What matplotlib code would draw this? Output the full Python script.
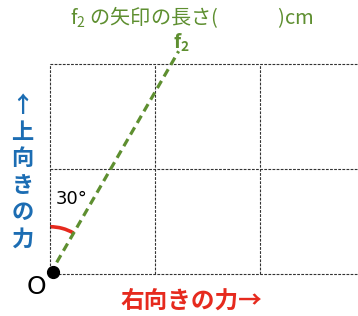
import matplotlib

matplotlib.use("Agg")
import matplotlib.pyplot as plt
import numpy as np
from matplotlib.patches import Arc

plt.rcParams["font.family"] = ["Noto Sans CJK JP", "DejaVu Sans"]

# grid in units of one cell; the figure shows 3 columns (last one cut) x 2 rows
GRID_X = [0, 1, 2]
GRID_Y = [0, 1, 2]
ANGLE_DEG = 30          # angle of f2 from the vertical
F2_LEN = 2.45           # drawn length of the f2 arrow (cells)
ARC_R = 0.45

TITLE = "$\\mathregular{f_2}$ の矢印の長さ(　　　)cm"
YLABEL = "↑上向きの力"
XLABEL = "右向きの力→"

GREEN = "#5e8f30"
BLUE = "#1c6db3"
RED = "#e62a1e"

PX = 105.0  # pixels per cell
fig = plt.figure(figsize=(3.58, 3.16), dpi=100, facecolor="white")
ax = fig.add_axes([0, 0, 1, 1])
ax.set_xlim(-50 / PX, 308 / PX)
ax.set_ylim(-42 / PX, 274 / PX)
ax.axis("off")

# dashed grid
for x in GRID_X:
    ax.plot([x, x], [GRID_Y[0], GRID_Y[-1]], color="#333333", lw=0.8,
            dashes=(2.5, 1.2))
for y in GRID_Y:
    ax.plot([GRID_X[0], 3.2], [y, y], color="#333333", lw=0.8,
            dashes=(2.5, 1.2))

# f2 line
a = np.deg2rad(ANGLE_DEG)
ex, ey = F2_LEN * np.sin(a), F2_LEN * np.cos(a)
ax.plot([0, ex], [0, ey], color=GREEN, lw=2.3, dashes=(2.6, 1.6),
        solid_capstyle="butt")
ax.text(ex + 0.03, ey - 0.03, "$\\mathregular{f_2}$", color=GREEN,
        fontsize=14, fontweight="bold", ha="center", va="bottom")

# angle arc
ax.add_patch(Arc((0, 0), 2 * ARC_R, 2 * ARC_R, theta1=90 - ANGLE_DEG,
                 theta2=90, color=RED, lw=2.6))
ax.text(0.21, 0.71, "30°", fontsize=13, ha="center", va="center",
        color="black", family="Liberation Sans Narrow")

# origin
ax.plot([0.03], [0.02], "o", color="black", ms=8.5)
ax.text(-0.13, -0.12, "O", fontsize=18, ha="center", va="center",
        family="Liberation Sans Narrow")

# titles / labels
fig.text(0.535, 0.945, TITLE, color=GREEN, fontsize=14.5, ha="center",
         va="center")
fig.text(0.063, 0.455, "\n".join(YLABEL), color=BLUE, fontsize=16,
         fontweight="bold", ha="center", va="center", linespacing=1.2)
fig.text(0.535, 0.05, XLABEL, color=RED, fontsize=17, fontweight="bold",
         ha="center", va="center")

fig.savefig("out.png", dpi=100, facecolor="white")
